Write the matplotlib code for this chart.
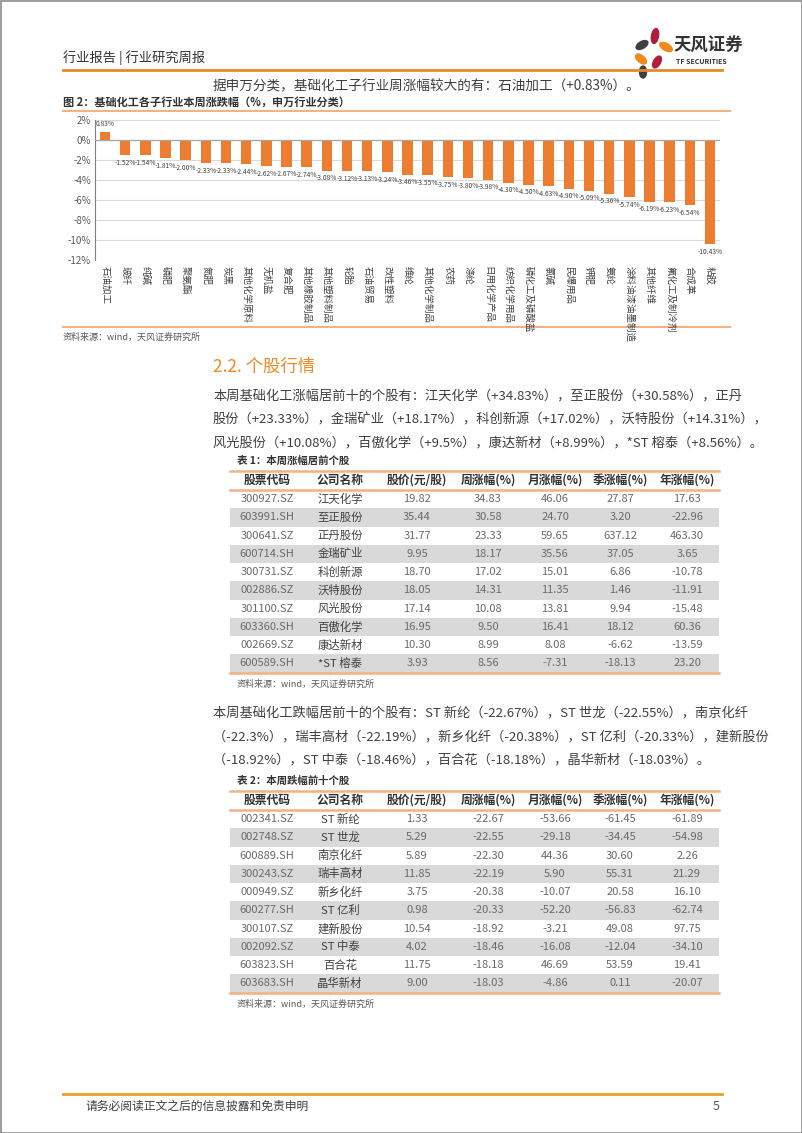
import matplotlib
matplotlib.use("Agg")
import matplotlib.pyplot as plt
from matplotlib.patches import Rectangle, Ellipse

plt.rcParams["font.family"] = ["Noto Sans CJK SC", "DejaVu Sans"]
plt.rcParams["axes.unicode_minus"] = False

# ── 数据 ────────────────────────────────────────────────────────────────
industries = ["石油加工", "玻纤", "纯碱", "磷肥", "聚氨酯", "氮肥", "炭黑", "其他化学原料",
              "无机盐", "复合肥", "其他橡胶制品", "其他塑料制品", "轮胎", "石油贸易", "改性塑料",
              "维纶", "其他化学制品", "农药", "涤纶", "日用化学产品", "纺织化学用品",
              "磷化工及磷酸盐", "氯碱", "民爆用品", "钾肥", "氨纶", "涂料油漆油墨制造",
              "其他纤维", "氟化工及制冷剂", "合成革", "粘胶"]
weekly_chg = [0.83, -1.52, -1.54, -1.81, -2.00, -2.33, -2.33, -2.44, -2.62, -2.67, -2.74,
              -3.08, -3.12, -3.13, -3.24, -3.46, -3.55, -3.75, -3.80, -3.98, -4.30, -4.50,
              -4.63, -4.90, -5.09, -5.36, -5.74, -6.19, -6.23, -6.54, -10.43]
y_ticks = [2, 0, -2, -4, -6, -8, -10, -12]

table_cols = ["股票代码", "公司名称", "股价(元/股)", "周涨幅(%)", "月涨幅(%)", "季涨幅(%)", "年涨幅(%)"]

top_codes = ["300927.SZ", "603991.SH", "300641.SZ", "600714.SH", "300731.SZ",
             "002886.SZ", "301100.SZ", "603360.SH", "002669.SZ", "600589.SH"]
top_names = ["江天化学", "至正股份", "正丹股份", "金瑞矿业", "科创新源",
             "沃特股份", "风光股份", "百傲化学", "康达新材", "*ST 榕泰"]
top_price = ["19.82", "35.44", "31.77", "9.95", "18.70", "18.05", "17.14", "16.95", "10.30", "3.93"]
top_week = ["34.83", "30.58", "23.33", "18.17", "17.02", "14.31", "10.08", "9.50", "8.99", "8.56"]
top_month = ["46.06", "24.70", "59.65", "35.56", "15.01", "11.35", "13.81", "16.41", "8.08", "-7.31"]
top_quarter = ["27.87", "3.20", "637.12", "37.05", "6.86", "1.46", "9.94", "18.12", "-6.62", "-18.13"]
top_year = ["17.63", "-22.96", "463.30", "3.65", "-10.78", "-11.91", "-15.48", "60.36", "-13.59", "23.20"]

low_codes = ["002341.SZ", "002748.SZ", "600889.SH", "300243.SZ", "000949.SZ",
             "600277.SH", "300107.SZ", "002092.SZ", "603823.SH", "603683.SH"]
low_names = ["ST 新纶", "ST 世龙", "南京化纤", "瑞丰高材", "新乡化纤",
             "ST 亿利", "建新股份", "ST 中泰", "百合花", "晶华新材"]
low_price = ["1.33", "5.29", "5.89", "11.85", "3.75", "0.98", "10.54", "4.02", "11.75", "9.00"]
low_week = ["-22.67", "-22.55", "-22.30", "-22.19", "-20.38", "-20.33", "-18.92", "-18.46", "-18.18", "-18.03"]
low_month = ["-53.66", "-29.18", "44.36", "5.90", "-10.07", "-52.20", "-3.21", "-16.08", "46.69", "-4.86"]
low_quarter = ["-61.45", "-34.45", "30.60", "55.31", "20.58", "-56.83", "49.08", "-12.04", "53.59", "0.11"]
low_year = ["-61.89", "-54.98", "2.26", "21.29", "16.10", "-62.74", "97.75", "-34.10", "19.41", "-20.07"]

para1 = ["本周基础化工涨幅居前十的个股有：江天化学（+34.83%），至正股份（+30.58%），正丹",
         "股份（+23.33%），金瑞矿业（+18.17%），科创新源（+17.02%），沃特股份（+14.31%），",
         "风光股份（+10.08%），百傲化学（+9.5%），康达新材（+8.99%），*ST 榕泰（+8.56%）。"]
para2 = ["本周基础化工跌幅居前十的个股有：ST 新纶（-22.67%），ST 世龙（-22.55%），南京化纤",
         "（-22.3%），瑞丰高材（-22.19%），新乡化纤（-20.38%），ST 亿利（-20.33%），建新股份",
         "（-18.92%），ST 中泰（-18.46%），百合花（-18.18%），晶华新材（-18.03%）。"]

ORANGE = "#E8892B"
BAR = "#ED7D31"
TXT = "#404040"
GRAY = "#595959"

W, H = 802, 1133
fig = plt.figure(figsize=(W / 100, H / 100), dpi=100)
fig.patch.set_facecolor("white")

# 页面坐标（像素，左上为原点）
page = fig.add_axes([0, 0, 1, 1])
page.set_xlim(0, W)
page.set_ylim(H, 0)
page.axis("off")
page.add_patch(Rectangle((0.5, 0.5), W - 1, H - 1, fill=False, edgecolor="#8c8c8c", lw=1.2))

# ── 页眉 ───────────────────────────────────────────────────────────────
page.text(63, 58, "行业报告 | 行业研究周报", fontsize=9.5, color="#333333", va="center")
petals = [((655, 36), 7, 15, 10, "#B01E3C"), ((666, 47), 7, 14, -60, "#F08A1D"),
          ((642, 45), 7, 13, 60, "#3f3f3f"), ((641, 59), 7, 13, -50, "#F08A1D"),
          ((657, 62), 7, 13, 30, "#B01E3C"), ((643, 72), 7, 12, 0, "#3f3f3f")]
for (cx, cy), w, h, ang, col in petals:
    page.add_patch(Ellipse((cx, cy), w, h, angle=ang, color=col))
page.text(674, 46, "天风证券", fontsize=12.5, fontweight="bold", color="#333333", va="center")
page.text(676, 62, "TF SECURITIES", fontsize=5, fontweight="bold", color="#333333", va="center")
page.plot([63, 722], [70, 70], color=ORANGE, lw=2)

page.text(213, 86, "据申万分类，基础化工子行业周涨幅较大的有：石油加工（+0.83%）。",
          fontsize=9.8, color=TXT, va="center")
page.text(63, 102, "图 2：基础化工各子行业本周涨跌幅（%，申万行业分类）", fontsize=8,
          fontweight="bold", color="#333333", va="center")
page.plot([63, 730], [111, 111], color="#F4B183", lw=1.5)
page.plot([63, 730], [327, 327], color="#F4B183", lw=1.5)
page.text(63, 337, "资料来源：wind，天风证券研究所", fontsize=6.5, color=GRAY, va="center")

# ── 柱状图 ─────────────────────────────────────────────────────────────
left, right, top, bottom = 95, 720, 120, 260
ax = fig.add_axes([left / W, 1 - bottom / H, (right - left) / W, (bottom - top) / H])
x = list(range(len(industries)))
ax.bar(x, weekly_chg, width=0.52, color=BAR, zorder=3)
ax.set_xlim(-0.5, len(industries) - 0.5)
ax.set_ylim(-12, 2)
ax.set_yticks(y_ticks)
ax.set_yticklabels([f"{t}%" for t in y_ticks], fontsize=7, color=GRAY)
ax.yaxis.grid(True, color="#d9d9d9", lw=0.8)
ax.axhline(0, color="#a6a6a6", lw=0.9, zorder=4)
ax.set_xticks(x)
ax.set_xticklabels(industries, rotation=-90, fontsize=6.8, color=TXT, va="top", ha="center")
ax.tick_params(axis="x", length=0, pad=4)
ax.tick_params(axis="y", length=0, pad=3)
for s in ["top", "right", "bottom"]:
    ax.spines[s].set_visible(False)
ax.spines["left"].set_color("#7f7f7f")
ax.set_facecolor("none")
for i, v in enumerate(weekly_chg):
    if v >= 0:
        ax.text(i, v + 0.35, f"{v:.2f}%", fontsize=4.8, color=TXT, ha="center", va="bottom")
    else:
        ax.text(i, v - 0.35, f"{v:.2f}%", fontsize=4.8, color=TXT, ha="center", va="top")

# ── 2.2 个股行情 ───────────────────────────────────────────────────────
page.text(213, 367, "2.2. 个股行情", fontsize=12.5, color="#F08A24", va="center")
for k, line in enumerate(para1):
    page.text(213, 396 + k * 23.5, line, fontsize=9.5, color=TXT, va="center")

col_x = [267, 340, 417, 488, 555, 620, 687]
tab_l, tab_r = 230, 719


def draw_table(caption, cap_y, y_top, cols_data):
    page.text(237, cap_y, caption, fontsize=7.5, fontweight="bold", color="#333333", va="center")
    head_h, row_h = 19, 18.25
    page.plot([tab_l, tab_r], [y_top, y_top], color="#F4B183", lw=1.8)
    for cx, name in zip(col_x, table_cols):
        page.text(cx, y_top + head_h / 2, name, fontsize=8.5, fontweight="bold",
                  color="#333333", ha="center", va="center")
    y0 = y_top + head_h
    page.plot([tab_l, tab_r], [y0, y0], color="#F4B183", lw=1.8)
    n = len(cols_data[0])
    for r in range(n):
        yc = y0 + r * row_h + row_h / 2
        if r % 2 == 1:
            page.add_patch(Rectangle((tab_l, y0 + r * row_h), tab_r - tab_l, row_h,
                                     color="#D9D9D9", lw=0, zorder=0))
        for c, (cx, col) in enumerate(zip(col_x, cols_data)):
            page.text(cx, yc, col[r], fontsize=8.2 if c == 1 else 8,
                      color="#404040" if c == 1 else "#6a6a6a", ha="center", va="center")
    yb = y0 + n * row_h
    page.plot([tab_l, tab_r], [yb, yb], color="#F4B183", lw=1.8)
    page.text(237, yb + 12, "资料来源：wind，天风证券研究所", fontsize=6.5, color=GRAY, va="center")


draw_table("表 1：本周涨幅居前个股", 461, 471,
           [top_codes, top_names, top_price, top_week, top_month, top_quarter, top_year])

for k, line in enumerate(para2):
    page.text(213, 713 + k * 23.5, line, fontsize=9.5, color=TXT, va="center")

draw_table("表 2：本周跌幅前十个股", 781, 791,
           [low_codes, low_names, low_price, low_week, low_month, low_quarter, low_year])

# ── 页脚 ───────────────────────────────────────────────────────────────
page.plot([63, 722], [1094, 1094], color="#E8A02B", lw=2)
page.text(85, 1106, "请务必阅读正文之后的信息披露和免责申明", fontsize=8.5, color=TXT, va="center")
page.text(716, 1106, "5", fontsize=9, color=GRAY, va="center", ha="center")

fig.savefig("out.png", dpi=100, facecolor="white")
